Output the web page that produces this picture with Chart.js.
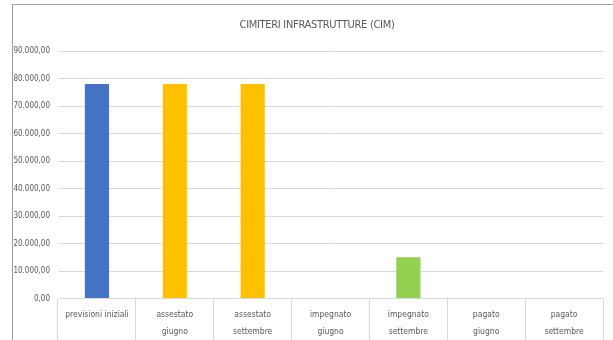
<!DOCTYPE html>
<html>
<head>
<meta charset="utf-8">
<script src="https://cdn.jsdelivr.net/npm/chart.js@4/dist/chart.umd.min.js"></script>
<style>
  html, body { margin: 0; padding: 0; background: #fff; overflow: hidden; }
  #wrap { position: absolute; left: 0; top: 0; width: 613px; height: 340px; overflow: hidden; }
  #frame { position: absolute; left: 12px; top: 4px; width: 640px; height: 400px;
           border-left: 1px solid #9a9a9a; border-top: 1px solid #a6a6a6; }
  #title { position: absolute; left: 167px; width: 300px; top: 17px; text-align: center;
           font: 11px 'Liberation Sans Narrow', 'DejaVu Sans Condensed', 'Open Sans', sans-serif;
           color: #595959; line-height: 16px; letter-spacing: -0.3px; }
  canvas { position: absolute; left: 0; top: 0; }
</style>
</head>
<body>
<div id="wrap">
  <div id="frame"></div>
  <canvas id="c" width="613" height="340"></canvas>
  <div id="title"></div>
</div>
<script>
const titleText = "CIMITERI INFRASTRUTTURE (CIM)";
const categories = [
  "previsioni iniziali",
  ["assestato", "giugno"],
  ["assestato", "settembre"],
  ["impegnato", "giugno"],
  ["impegnato", "settembre"],
  ["pagato", "giugno"],
  ["pagato", "settembre"]
];
const values = [78000, 78000, 78000, 0, 15000, 0, 0];
const barColors = ["#4472C4", "#FFC000", "#FFC000", "#FFC000", "#92D050", "#92D050", "#92D050"];
const yMin = 0, yMax = 90000, yStep = 10000;

document.getElementById("title").textContent = titleText;

const FONT = "'Liberation Sans Narrow', 'DejaVu Sans Condensed', 'Open Sans', sans-serif";
const TXT = "#595959";
const GRID = "#d9d9d9";

function fmt(v) {
  const parts = Math.round(v).toString().replace(/\B(?=(\d{3})+(?!\d))/g, ".");
  return parts + ",00";
}

new Chart(document.getElementById("c"), {
  type: "bar",
  data: {
    labels: categories,
    datasets: [{
      data: values,
      backgroundColor: barColors,
      borderWidth: 0,
      barPercentage: 0.31,
      categoryPercentage: 1
    }]
  },
  options: {
    responsive: false,
    animation: false,
    devicePixelRatio: 1,
    layout: { padding: { left: 0, right: 10, top: 51, bottom: 0 } },
    plugins: {
      legend: { display: false },
      tooltip: { enabled: false },
      title: { display: false }
    },
    scales: {
      x: {
        offset: true,
        border: { display: true, color: GRID, width: 1 },
        grid: {
          display: true,
          offset: true,
          drawOnChartArea: false,
          drawTicks: true,
          tickLength: 42,
          color: GRID,
          lineWidth: 1
        },
        ticks: {
          color: TXT,
          font: { family: FONT, size: 8.5, lineHeight: 2.1 },
          padding: -35,
          maxRotation: 0,
          autoSkip: false
        },
        afterFit: (s) => { s.height = 41.5; }
      },
      y: {
        min: yMin,
        max: yMax,
        border: { display: false },
        grid: { color: GRID, lineWidth: 1, drawTicks: false },
        ticks: {
          stepSize: yStep,
          color: TXT,
          font: { family: FONT, size: 8 },
          padding: 8,
          callback: (v) => fmt(v)
        },
        afterFit: (s) => { s.width = 58; }
      }
    }
  }
});
</script>
</body>
</html>
